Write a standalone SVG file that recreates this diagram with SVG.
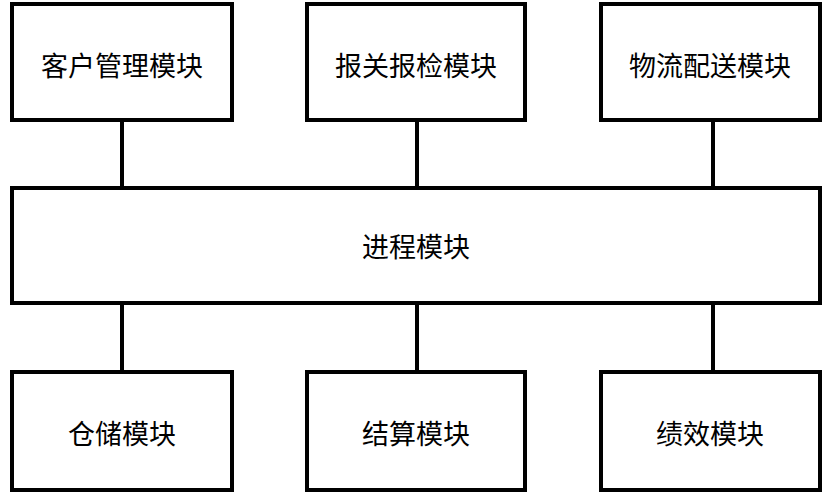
<svg xmlns="http://www.w3.org/2000/svg" width="831" height="500" viewBox="0 0 831 500">
<style>
rect{fill:#fff;stroke:#000;stroke-width:4}
line{stroke:#000;stroke-width:4}
text{font-family:"Noto Sans CJK SC",sans-serif;font-size:27px;text-anchor:middle;dominant-baseline:central;fill:#000}
</style>
<rect x="0" y="0" width="831" height="500" style="stroke:none"/>
<g id="connectors">
<line x1="122" y1="120" x2="122" y2="188"/>
<line x1="417" y1="120" x2="417" y2="188"/>
<line x1="713" y1="120" x2="713" y2="188"/>
<line x1="122" y1="303" x2="122" y2="372"/>
<line x1="417" y1="303" x2="417" y2="372"/>
<line x1="713" y1="303" x2="713" y2="372"/>
</g>
<g id="n1"><rect x="12" y="4" width="220" height="116"/><text x="122" y="64">客户管理模块</text></g>
<g id="n2"><rect x="307" y="4" width="218" height="116"/><text x="416" y="64">报关报检模块</text></g>
<g id="n3"><rect x="601" y="4" width="219" height="116"/><text x="710" y="64">物流配送模块</text></g>
<g id="n4"><rect x="12" y="188" width="808" height="115"/><text x="416" y="245">进程模块</text></g>
<g id="n5"><rect x="12" y="372" width="220" height="118"/><text x="122" y="432">仓储模块</text></g>
<g id="n6"><rect x="307" y="372" width="218" height="118"/><text x="416" y="432">结算模块</text></g>
<g id="n7"><rect x="601" y="372" width="219" height="118"/><text x="710" y="432">绩效模块</text></g>
</svg>
